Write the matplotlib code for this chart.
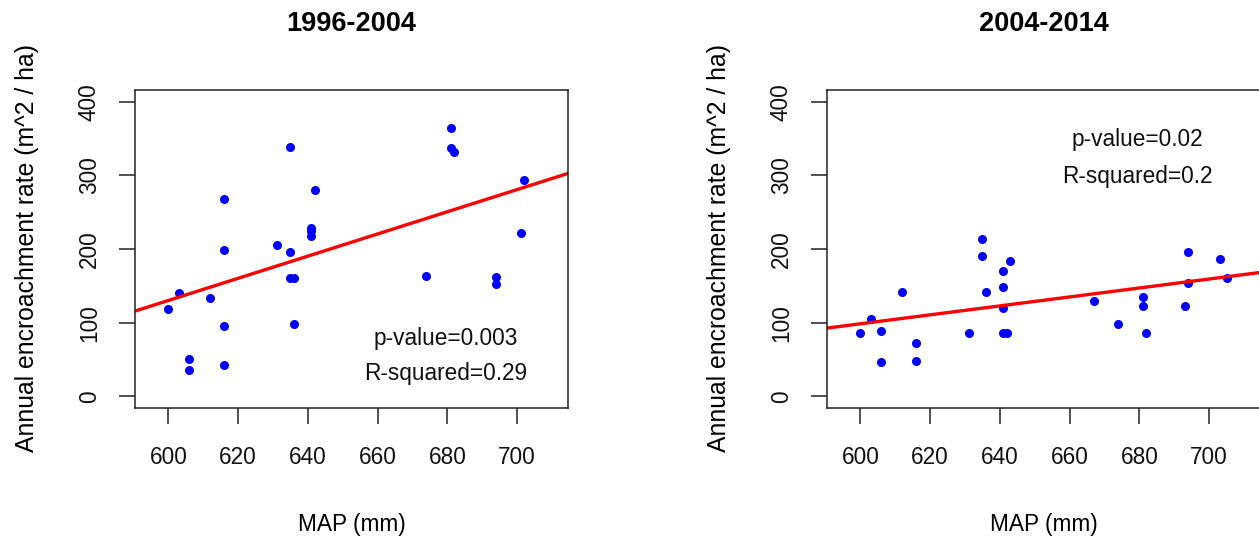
import matplotlib
matplotlib.use("Agg")
import matplotlib.pyplot as plt

# MAP (mm) vs annual encroachment rate, two periods
map_96 = [600, 603, 606, 606, 612, 616, 616, 616, 616, 631, 635, 635, 635, 636, 636,
          641, 641, 641, 642, 674, 681, 681, 682, 694, 694, 701, 702]
rate_96 = [119, 140, 51, 35, 133, 268, 198, 95, 42, 205, 339, 196, 161, 161, 98,
           229, 224, 218, 280, 163, 364, 337, 332, 162, 152, 222, 294]

map_04 = [600, 603, 606, 606, 612, 616, 616, 631, 635, 635, 636, 641, 641, 641, 641,
          642, 643, 667, 674, 681, 681, 682, 693, 694, 694, 703, 705]
rate_04 = [86, 105, 88, 46, 142, 72, 48, 86, 214, 191, 142, 170, 149, 120, 86,
           86, 184, 130, 98, 135, 123, 86, 123, 196, 154, 186, 161]

# regression lines (intercept, slope)
fit_96 = (-773.5, 1.506)
fit_04 = (-266.4, 0.608)

titles = ["1996-2004", "2004-2014"]
stats_96 = ["p-value=0.003", "R-squared=0.29"]
stats_04 = ["p-value=0.02", "R-squared=0.2"]

plt.rcParams['font.family'] = ['Liberation Sans', 'DejaVu Sans']
plt.rcParams['font.size'] = 16.3

W, H = 1259, 542
fig = plt.figure(figsize=(W / 100, H / 100), dpi=100)

ax_w = 433 / W
ax_h = 318 / H
bottom = (H - 408) / H
ax1 = fig.add_axes([135 / W, bottom, ax_w, ax_h])
ax2 = fig.add_axes([827 / W, bottom, ax_w, ax_h])

panels = [
    (ax1, map_96, rate_96, fit_96, titles[0], stats_96, [(679.5, 79), (679.5, 31)]),
    (ax2, map_04, rate_04, fit_04, titles[1], stats_04, [(679.5, 349), (679.5, 299)]),
]

for ax, xs, ys, fit, title, stats, spots in panels:
    ax.plot(xs, ys, 'o', color='#0000ff', markersize=6.5, markeredgewidth=0)
    ax.axline((0, fit[0]), slope=fit[1], color='#ff0000', lw=2.4)
    for s, (tx, ty) in zip(stats, spots):
        ax.text(tx, ty, s, ha='center', va='center', color='#111111')

    ax.set_xlim(590.4, 714.6)
    ax.set_ylim(-16, 416)
    ax.set_xticks([600, 620, 640, 660, 680, 700])
    ax.set_yticks([0, 100, 200, 300, 400])
    ax.tick_params(direction='out', length=11.5, width=1.1, color='#222222',
                   labelcolor='#111111')
    ax.tick_params(axis='x', pad=16)
    ax.tick_params(axis='y', pad=13)
    for lab in ax.get_yticklabels():
        lab.set_rotation(90)
        lab.set_va('center')
    for sp in ax.spines.values():
        sp.set_linewidth(1.1)
        sp.set_color('#222222')

    ax.set_title(title, fontweight='bold', fontsize=19.5, y=(408 - 24) / 318,
                 va='center', pad=0)
    ax.set_xlabel("MAP (mm)", va='center')
    ax.xaxis.set_label_coords(0.5, (408 - 524) / 318)
    ax.set_ylabel("Annual encroachment rate (m^2 / ha)", va='center', fontsize=17.8)
    ax.yaxis.set_label_coords((27 - 135) / 433, (408 - 247.5) / 318)

fig.savefig("out.png", dpi=100)
